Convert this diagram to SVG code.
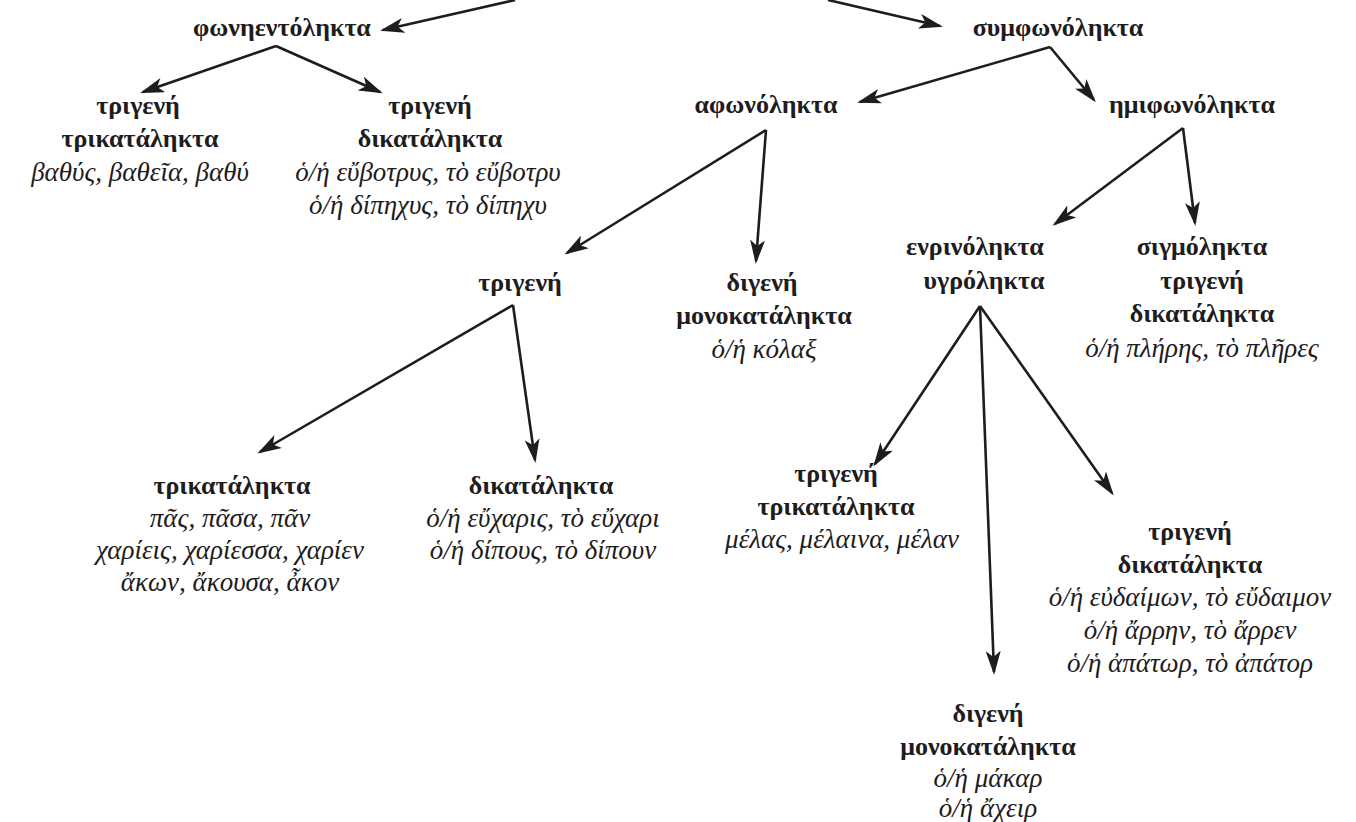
<svg xmlns="http://www.w3.org/2000/svg" width="1356" height="822" viewBox="0 0 1356 822">
<style>
.b{font-family:"Liberation Serif","Times New Roman",serif;font-weight:bold;font-size:26px;fill:#1e1c1d;text-anchor:middle}
.i{font-family:"Liberation Serif","Times New Roman",serif;font-style:italic;font-size:27px;fill:#1e1c1d;text-anchor:middle}
.c{stroke:#1e1c1d;stroke-width:2.6;fill:none;marker-end:url(#ah)}
</style>
<defs>
<marker id="ah" viewBox="0 0 24 15" refX="21" refY="7.5" markerWidth="24" markerHeight="15" markerUnits="userSpaceOnUse" orient="auto">
<path d="M0,0 L24,7.5 L0,15 L6,7.5 Z" fill="#1e1c1d"/>
</marker>
</defs>
<g id="connectors">
<path class="c" d="M515,0 L383,30"/>
<path class="c" d="M828,0 L940,26"/>
<path class="c" d="M276,46 L143,92"/>
<path class="c" d="M276,46 L380,92"/>
<path class="c" d="M1050,47 L860,102"/>
<path class="c" d="M1050,47 L1094,100"/>
<path class="c" d="M766,130 L567,253"/>
<path class="c" d="M766,130 L756,261"/>
<path class="c" d="M1183,128 L1055,224"/>
<path class="c" d="M1183,128 L1195,223"/>
<path class="c" d="M513,305 L260,452"/>
<path class="c" d="M513,305 L535,460"/>
<path class="c" d="M980,306 L875,464"/>
<path class="c" d="M980,306 L994,672"/>
<path class="c" d="M980,306 L1112,493"/>
</g>
<g id="n-fonienta"><text class="b" x="282" y="36">φωνηεντόληκτα</text></g>
<g id="n-symfona"><text class="b" x="1058" y="36">συμφωνόληκτα</text></g>
<g id="n-f-trigeni-trikat">
<text class="b" x="138" y="114">τριγενή</text>
<text class="b" x="140" y="147">τρικατάληκτα</text>
<text class="i" x="140" y="181">βαθύς, βαθεῖα, βαθύ</text>
</g>
<g id="n-f-trigeni-dikat">
<text class="b" x="430" y="114">τριγενή</text>
<text class="b" x="430" y="147">δικατάληκτα</text>
<text class="i" x="428" y="181">ὁ/ἡ εὔβοτρυς, τὸ εὔβοτρυ</text>
<text class="i" x="428" y="214">ὁ/ἡ δίπηχυς, τὸ δίπηχυ</text>
</g>
<g id="n-afona"><text class="b" x="766" y="113">αφωνόληκτα</text></g>
<g id="n-imifona"><text class="b" x="1192" y="113">ημιφωνόληκτα</text></g>
<g id="n-a-trigeni"><text class="b" x="520" y="291">τριγενή</text></g>
<g id="n-a-digeni">
<text class="b" x="762" y="291">διγενή</text>
<text class="b" x="764" y="324">μονοκατάληκτα</text>
<text class="i" x="764" y="358">ὁ/ἡ κόλαξ</text>
</g>
<g id="n-enrino">
<text class="b" x="975" y="255">ενρινόληκτα</text>
<text class="b" x="984" y="289">υγρόληκτα</text>
</g>
<g id="n-sigmo">
<text class="b" x="1202" y="255">σιγμόληκτα</text>
<text class="b" x="1202" y="289">τριγενή</text>
<text class="b" x="1202" y="322">δικατάληκτα</text>
<text class="i" x="1202" y="357">ὁ/ἡ πλήρης, τὸ πλῆρες</text>
</g>
<g id="n-t-trikat">
<text class="b" x="232" y="494">τρικατάληκτα</text>
<text class="i" x="230" y="527">πᾶς, πᾶσα, πᾶν</text>
<text class="i" x="230" y="559">χαρίεις, χαρίεσσα, χαρίεν</text>
<text class="i" x="230" y="591">ἄκων, ἄκουσα, ἆκον</text>
</g>
<g id="n-t-dikat">
<text class="b" x="541" y="494">δικατάληκτα</text>
<text class="i" x="543" y="527">ὁ/ἡ εὔχαρις, τὸ εὔχαρι</text>
<text class="i" x="543" y="559">ὁ/ἡ δίπους, τὸ δίπουν</text>
</g>
<g id="n-e-trigeni-trikat">
<text class="b" x="836" y="482">τριγενή</text>
<text class="b" x="836" y="515">τρικατάληκτα</text>
<text class="i" x="842" y="548">μέλας, μέλαινα, μέλαν</text>
</g>
<g id="n-e-trigeni-dikat">
<text class="b" x="1190" y="540">τριγενή</text>
<text class="b" x="1190" y="573">δικατάληκτα</text>
<text class="i" x="1190" y="606">ὁ/ἡ εὐδαίμων, τὸ εὔδαιμον</text>
<text class="i" x="1190" y="639">ὁ/ἡ ἄρρην, τὸ ἄρρεν</text>
<text class="i" x="1190" y="672">ὁ/ἡ ἀπάτωρ, τὸ ἀπάτορ</text>
</g>
<g id="n-e-digeni">
<text class="b" x="988" y="722">διγενή</text>
<text class="b" x="988" y="755">μονοκατάληκτα</text>
<text class="i" x="988" y="787">ὁ/ἡ μάκαρ</text>
<text class="i" x="988" y="817">ὁ/ἡ ἄχειρ</text>
</g>
</svg>
